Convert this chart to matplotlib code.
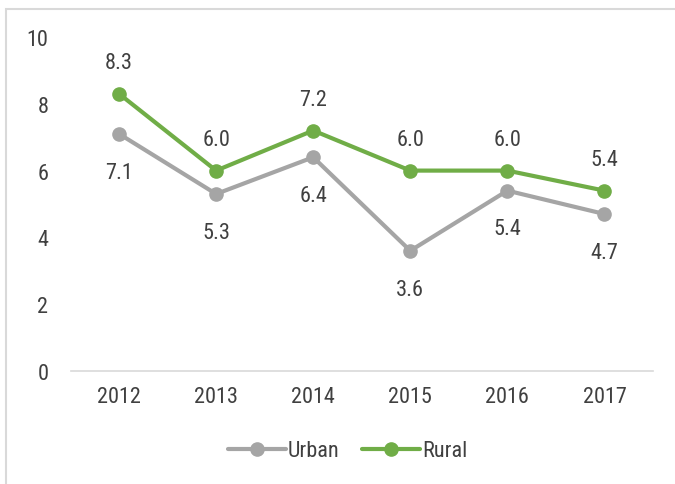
import matplotlib.pyplot as plt
from matplotlib import font_manager
from matplotlib.patches import Rectangle


def regular_weight(w):
    if isinstance(w, str):
        return w in ('normal', 'regular', 'book', 'light', 'medium')
    return w <= 500


fonts = font_manager.fontManager.ttflist
prefs = ['Roboto Condensed', 'Liberation Sans Narrow', 'Open Sans Condensed', 'DejaVu Sans']
fam = 'DejaVu Sans'
for p in prefs:
    if any(f.name == p and regular_weight(f.weight) for f in fonts):
        fam = p
        break
plt.rcParams['font.family'] = [fam, 'DejaVu Sans']
plt.rcParams['font.stretch'] = 'condensed'

years = ['2012', '2013', '2014', '2015', '2016', '2017']
urban = [7.1, 5.3, 6.4, 3.6, 5.4, 4.7]
rural = [8.3, 6.0, 7.2, 6.0, 6.0, 5.4]

gray = '#A5A5A5'
green = '#70AD47'
txt = '#404040'

fig = plt.figure(figsize=(6.75, 4.85), dpi=100)
fig.patches.append(Rectangle((6 / 675, -0.1), 1.2, (485 - 10) / 485 + 0.1,
                             transform=fig.transFigure, fill=False,
                             edgecolor='#D9D9D9', linewidth=1.5))
ax = fig.add_axes([70.5 / 675, 1 - 372 / 485, (653 - 70.5) / 675, (372 - 38) / 485])

x = list(range(len(years)))
ax.plot(x, urban, color=gray, lw=3, marker='o', ms=9.5, label='Urban', solid_capstyle='round')
ax.plot(x, rural, color=green, lw=3, marker='o', ms=9.5, label='Rural', solid_capstyle='round')

for i in x:
    ax.annotate(f'{urban[i]:.1f}', (i, urban[i]), xytext=(0, -20), textcoords='offset points',
                ha='center', va='top', fontsize=16, color=txt)
    ax.annotate(f'{rural[i]:.1f}', (i, rural[i]), xytext=(0, 15), textcoords='offset points',
                ha='center', va='bottom', fontsize=16, color=txt)

ax.set_xlim(-0.5, len(years) - 0.5)
ax.set_ylim(0, 10)
ax.set_yticks([0, 2, 4, 6, 8, 10])
ax.set_xticks(x)
ax.set_xticklabels(years)
for s in ['top', 'right', 'left']:
    ax.spines[s].set_visible(False)
ax.spines['bottom'].set_color('#D9D9D9')
ax.spines['bottom'].set_linewidth(1.2)
ax.tick_params(length=0, labelsize=16, colors=txt)
ax.tick_params(axis='y', pad=16)
ax.tick_params(axis='x', pad=11)

fig.legend(loc='center', bbox_to_anchor=(0.515, 1 - 452 / 485), ncol=2, frameon=False,
           fontsize=16, handlelength=2.6, columnspacing=1.0, handletextpad=0.1,
           labelcolor=txt)

fig.savefig('out.png', dpi=100)
